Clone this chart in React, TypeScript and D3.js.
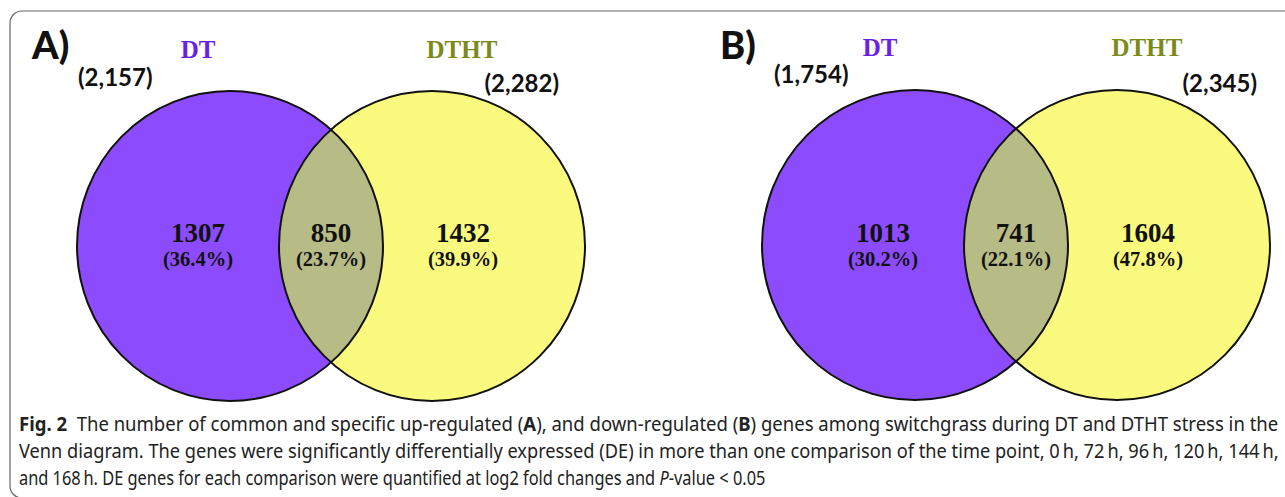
import React, { useLayoutEffect, useRef } from "react";
import * as d3 from "d3";

// ---- data ----
const PANEL_LABELS = ["A)", "B)"];
const SET_NAMES = ["DT", "DTHT"];
const SET_TOTALS = [
  [2157, 2282],
  [1754, 2345],
];
const REGION_COUNTS = [
  [1307, 850, 1432],
  [1013, 741, 1604],
];
const REGION_PCTS = [
  [36.4, 23.7, 39.9],
  [30.2, 22.1, 47.8],
];

const CAPTION_LINES = [
  [
    { t: "Fig. 2", b: true },
    { t: "  The number of common and specific up-regulated (" },
    { t: "A", b: true },
    { t: "), and down-regulated (" },
    { t: "B", b: true },
    { t: ") genes among switchgrass during DT and DTHT stress in the" },
  ],
  [
    {
      t: "Venn diagram. The genes were significantly differentially expressed (DE) in more than one comparison of the time point, 0\u2009h, 72\u2009h, 96\u2009h, 120\u2009h, 144\u2009h,",
    },
  ],
  [
    { t: "and 168\u2009h. DE genes for each comparison were quantified at log2 fold changes and " },
    { t: "P", i: true },
    { t: "-value < 0.05" },
  ],
];

// ---- layout ----
const W = 1285;
const H = 497;
const PANEL_X = [230, 915]; // centre of the first set's ellipse
const SET_GAP = 202; // centre distance between the two ellipses
const RX = 153;
const RY = 155;
const CY = [246, 245];

const PANEL_TEXT = [
  { lab: -198, labY: 59, dt: -32, dtht: 232, setY: 58, tot1: -152, tot1Y: 86, tot2: 329, tot2Y: 92 },
  { lab: -195, labY: 59, dt: -35, dtht: 232, setY: 56, tot1: -141, tot1Y: 83, tot2: 342, tot2Y: 92 },
];

const C_PURPLE = "#8c4cfd";
const C_YELLOW = "#fafa7e";
const C_OVER = "#b7bb86";
const C_DT = "#6a1ee8";
const C_DTHT = "#7b8a1a";

const fmtTotal = d3.format(",");
const fmtPct = d3.format(".1f");

function Panel({ idx }: { idx: number }) {
  const x = d3.scaleLinear().domain([0, 1]).range([PANEL_X[idx], PANEL_X[idx] + SET_GAP]);
  const cy = CY[idx];
  const cx0 = x(0);
  const cx1 = x(1);
  const tx = PANEL_TEXT[idx];
  const clipId = `clip-${idx}`;
  const regionX = [cx0 - 32, (cx0 + cx1) / 2, cx1 + 31];
  return (
    <g>
      <defs>
        <clipPath id={clipId}>
          <ellipse cx={cx1} cy={cy} rx={RX} ry={RY} />
        </clipPath>
      </defs>
      <ellipse cx={cx0} cy={cy} rx={RX} ry={RY} fill={C_PURPLE} />
      <ellipse cx={cx1} cy={cy} rx={RX} ry={RY} fill={C_YELLOW} />
      <ellipse cx={cx0} cy={cy} rx={RX} ry={RY} fill={C_OVER} clipPath={`url(#${clipId})`} />
      <ellipse cx={cx0} cy={cy} rx={RX} ry={RY} fill="none" stroke="#111" strokeWidth={2} />
      <ellipse cx={cx1} cy={cy} rx={RX} ry={RY} fill="none" stroke="#111" strokeWidth={2} />

      <text x={cx0 + tx.lab} y={tx.labY} fontFamily="Lato" fontWeight={900} fontSize={38} fill="#111">
        {PANEL_LABELS[idx]}
      </text>
      <text x={cx0 + tx.dt} y={tx.setY} textAnchor="middle" fontFamily="Liberation Serif" fontWeight={700} fontSize={25} fill={C_DT}>
        {SET_NAMES[0]}
      </text>
      <text x={cx0 + tx.dtht} y={tx.setY} textAnchor="middle" fontFamily="Liberation Serif" fontWeight={700} fontSize={25} fill={C_DTHT}>
        {SET_NAMES[1]}
      </text>
      <text x={cx0 + tx.tot1} y={tx.tot1Y} fontFamily="Lato" fontWeight={700} fontSize={24} fill="#111">
        ({fmtTotal(SET_TOTALS[idx][0])})
      </text>
      <text x={cx0 + tx.tot2} y={tx.tot2Y} textAnchor="end" fontFamily="Lato" fontWeight={700} fontSize={24} fill="#111">
        ({fmtTotal(SET_TOTALS[idx][1])})
      </text>
      {REGION_COUNTS[idx].map((c, i) => (
        <g key={i}>
          <text x={regionX[i]} y={242} textAnchor="middle" fontFamily="Liberation Serif" fontWeight={700} fontSize={27} fill="#111">
            {c}
          </text>
          <text x={regionX[i]} y={266} textAnchor="middle" fontFamily="Liberation Serif" fontWeight={700} fontSize={20.5} fill="#111">
            ({fmtPct(REGION_PCTS[idx][i])}%)
          </text>
        </g>
      ))}
    </g>
  );
}

function CaptionLine({ li, x, y, end }: { li: number; x: number; y: number; end: number }) {
  const ref = useRef<SVGTextElement | null>(null);
  useLayoutEffect(() => {
    const el = ref.current;
    if (!el) return;
    el.removeAttribute("transform");
    const len = el.getComputedTextLength();
    if (len > 0) {
      const s = (end - x) / len;
      el.setAttribute("transform", `translate(${x},0) scale(${s},1) translate(${-x},0)`);
    }
  }, [x, end]);
  return (
    <text ref={ref} x={x} y={y} fontFamily="Noto Sans" fontSize={20} fill="#222" style={{ whiteSpace: "pre" }}>
      {CAPTION_LINES[li].map((s: any, si: number) => (
        <tspan key={si} fontWeight={s.b ? 700 : 400} fontStyle={s.i ? "italic" : "normal"}>
          {s.t}
        </tspan>
      ))}
    </text>
  );
}

export default function App() {
  const captionX = 19;
  const captionBase = [431, 458, 485];
  const captionEnd = [1279, 1279, 766];
  return (
    <svg
      width={W}
      height={H}
      viewBox={`0 0 ${W} ${H}`}
      style={{ position: "absolute", left: 0, top: 0, background: "#fff" }}
    >
      <rect x={0} y={0} width={W} height={H} fill="#fff" />
      <rect x={10} y={11} width={1400} height={487} rx={12} ry={12} fill="none" stroke="#666" strokeWidth={1.2} />
      <Panel idx={0} />
      <Panel idx={1} />
      {CAPTION_LINES.map((_, li) => (
        <CaptionLine key={li} li={li} x={captionX} y={captionBase[li]} end={captionEnd[li]} />
      ))}
    </svg>
  );
}
